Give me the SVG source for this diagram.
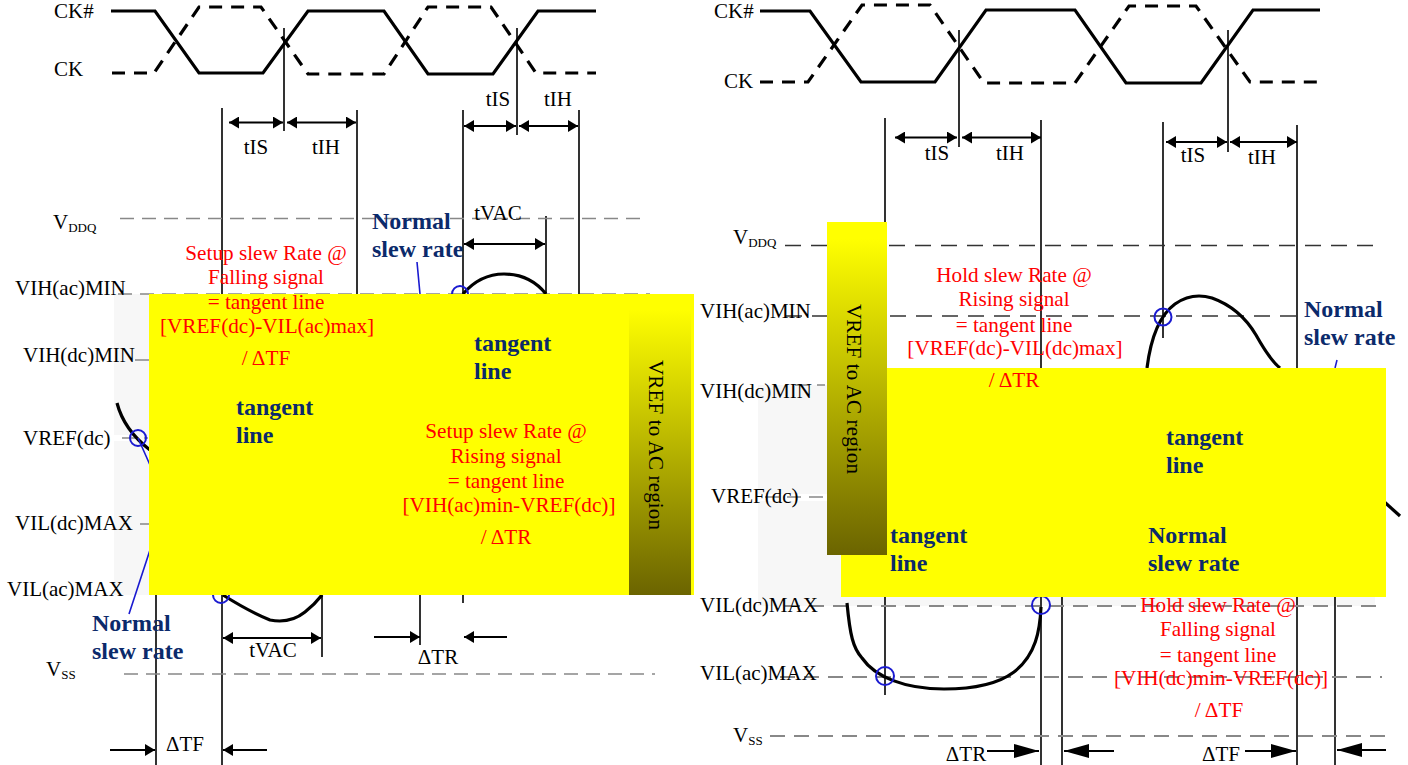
<svg xmlns="http://www.w3.org/2000/svg" width="1408" height="765" viewBox="0 0 1408 765">
<style>
text{font-family:"Liberation Serif","Times New Roman",serif;font-size:21px;fill:#000}
.c{text-anchor:middle}
.r{fill:#f00;font-size:21.200px}
.b{fill:#0b2a6b;font-weight:bold;font-size:24px}
.sub{font-size:13px}
.s{fill:none;stroke:#000;stroke-width:3.2}
.d{fill:none;stroke:#000;stroke-width:3.2;stroke-dasharray:13 9}
.v{stroke:#000;stroke-width:1.6;fill:none}
.g1{stroke:#888;stroke-width:1.6;stroke-dasharray:14 8;fill:none}
.g2{stroke:#333;stroke-width:1.3;stroke-dasharray:16 10;fill:none}
.g3{stroke:#888;stroke-width:2;stroke-dasharray:15 9;fill:none}
.cv{fill:none;stroke:#000;stroke-width:3.2}
.o{fill:none;stroke:#1a1ad0;stroke-width:2}
.bl{stroke:#1a1ad0;stroke-width:1.6;fill:none}
.a{stroke:#000;stroke-width:1.8;fill:none;marker-start:url(#ms);marker-end:url(#me)}
.a1{stroke:#000;stroke-width:1.8;fill:none;marker-end:url(#me)}
.a2{stroke:#000;stroke-width:1.8;fill:none;marker-end:url(#mb)}
.y{fill:#ff0}
.gr{fill:url(#fade)}
</style>
<defs>
<linearGradient id="fade" x1="0" y1="0" x2="0" y2="1"><stop offset="0.05" stop-color="#ff0"/><stop offset="1" stop-color="#6b6400"/></linearGradient>
<marker id="me" markerUnits="userSpaceOnUse" markerWidth="11" markerHeight="12" refX="10" refY="6" orient="auto"><path d="M0 0L10 6L0 12Z" fill="#000"/></marker>
<marker id="ms" markerUnits="userSpaceOnUse" markerWidth="11" markerHeight="12" refX="0" refY="6" orient="auto"><path d="M10 0L0 6L10 12Z" fill="#000"/></marker>
<marker id="mb" markerUnits="userSpaceOnUse" markerWidth="26" markerHeight="14" refX="25" refY="7" orient="auto"><path d="M0 0L25 7L0 14Z" fill="#000"/></marker>
</defs>

<g id="background">
<rect x="114" y="294" width="36" height="301" fill="#f7f7f7"/>
<rect x="114" y="435" width="16" height="6" fill="#fff"/>
<rect x="758" y="385" width="617" height="221" fill="#f7f7f7"/>
<rect x="758" y="494" width="69" height="7" fill="#fff"/>
</g>

<g id="connectors">
<path class="s" d="M111 11H155L199 73H263L308 11H384L428 74H493L538 11H596"/>
<path class="d" d="M112 73H154L199 7H261L308 74H384L428 7H491L536 73H596"/>
<path class="v" d="M284 28V131M517 28V135M222 108V765M357 110V294M463 110V294M579 110V294M546 216V294M156 595V765M322 595V657M420 595V645M463 595V603"/>
<path class="g1" d="M120 218.500H648M118 294H650M135 360H149M122 438H148M140 524H149M124 674H655"/>
<path class="a" d="M229 122.500H283"/>
<path class="a" d="M287 122.500H356"/>
<path class="a" d="M464 126H516"/>
<path class="a" d="M519 126H578"/>
<path class="a" d="M464 244H545"/>
<path class="a" d="M223 638H321"/>
<path class="a1" d="M374 637H420"/>
<path class="a1" d="M507 637H464"/>
<path class="a1" d="M110 750H155"/>
<path class="a1" d="M267 750H223"/>
<path class="cv" d="M463 294Q480 274 504 274Q530 274 546 294"/>
<path class="cv" d="M117 403Q124 430 150 450"/>
<path class="cv" d="M223 595Q250 612 270 620Q290 624 305 612Q315 604 322 595"/>
<circle class="o" cx="460" cy="294" r="8"/>
<circle class="o" cx="138" cy="438" r="8"/>
<circle class="o" cx="221" cy="595" r="8"/>
<path class="bl" d="M417 262L420 294M138 438L150 465M150 550L129 614"/>

<path class="s" d="M760 11H810L861 82H935L986 10H1075L1126 83H1201L1253 10H1320"/>
<path class="d" d="M760 82H808L862 5H930L984 83H1075L1129 6H1196L1250 82H1318"/>
<path class="v" d="M959 30V147M1228 30V152M885 118V222M885 597V695M1041 120V368M1041 597V765M1163 122V338M1297 125V368M1297 597V765M1062 597V765M1335 597V765"/>
<path class="g2" d="M785 245.500H1382M786 316H1300"/>
<path class="g1" d="M795 385H825M765 497H827"/>
<path class="g3" d="M785 606H1382M780 677H1382M770 736H1386"/>
<path class="a" d="M895 137.500H957"/>
<path class="a" d="M962 137.500H1041"/>
<path class="a" d="M1166 142H1227"/>
<path class="a" d="M1230 142H1297"/>
<path class="a2" d="M987 751H1039"/>
<path class="a2" d="M1114 751H1064"/>
<path class="a2" d="M1245 751H1296"/>
<path class="a2" d="M1386 750H1337"/>
<path class="cv" d="M1147 368Q1153 320 1175 304Q1192 292 1212 298Q1240 308 1256 335Q1270 360 1280 368"/>
<path class="cv" d="M847 603C850 635 853 648 862 658C875 677 905 689 944 689C975 689 998 684 1014 672C1036 655 1040 630 1041 607"/>
<path class="cv" d="M1380 498L1400 516"/>
<circle class="o" cx="1163" cy="317" r="8.500"/>
<circle class="o" cx="885" cy="676" r="9"/>
<circle class="o" cx="1041" cy="605" r="9"/>
<path class="bl" d="M1337 360L1335 368"/>
</g>

<g id="left-panel">
<rect class="y" x="149" y="294" width="545" height="301"/>
<rect class="gr" x="629" y="294" width="62" height="301"/>
<text x="54" y="18">CK#</text>
<text x="54" y="76">CK</text>
<text x="53" y="229">V<tspan class="sub" dy="3">DDQ</tspan></text>
<text x="15" y="295">VIH(ac)MIN</text>
<text x="23" y="362">VIH(dc)MIN</text>
<text x="23" y="445">VREF(dc)</text>
<text x="15" y="530">VIL(dc)MAX</text>
<text x="7" y="596">VIL(ac)MAX</text>
<text x="46" y="676">V<tspan class="sub" dy="3">SS</tspan></text>
<text class="c" x="256" y="154">tIS</text>
<text class="c" x="326" y="154">tIH</text>
<text class="c" x="498" y="106">tIS</text>
<text class="c" x="558" y="106">tIH</text>
<text class="c" x="498" y="220">tVAC</text>
<text class="c" x="273" y="657">tVAC</text>
<text class="c" x="438" y="664">ΔTR</text>
<text class="c" x="185" y="751">ΔTF</text>
<text class="b" x="372" y="229">Normal</text>
<text class="b" x="372" y="257">slew rate</text>
<text class="b" x="92" y="631">Normal</text>
<text class="b" x="92" y="659">slew rate</text>
<text class="b" x="474" y="351">tangent</text>
<text class="b" x="474" y="379">line</text>
<text class="b" x="236" y="415">tangent</text>
<text class="b" x="236" y="443">line</text>
<text class="c r" x="266" y="260">Setup slew Rate @</text>
<text class="c r" x="266" y="284">Falling signal</text>
<text class="c r" x="266" y="309">= tangent line</text>
<text class="c r" x="267" y="333">[VREF(dc)-VIL(ac)max]</text>
<text class="c r" x="266" y="365">/ ΔTF</text>
<text class="c r" x="506" y="438">Setup slew Rate @</text>
<text class="c r" x="506" y="463">Rising signal</text>
<text class="c r" x="506" y="488">= tangent line</text>
<text class="c r" x="509" y="512">[VIH(ac)min-VREF(dc)]</text>
<text class="c r" x="506" y="544">/ ΔTR</text>
<text class="c" transform="translate(649 445) rotate(90)" textLength="170">VREF to AC region</text>
</g>

<g id="right-panel">
<rect class="y" x="841" y="368" width="545" height="229"/>
<rect class="gr" x="827" y="222" width="60" height="333"/>
<text x="714" y="18">CK#</text>
<text x="724" y="88">CK</text>
<text x="733" y="244">V<tspan class="sub" dy="3">DDQ</tspan></text>
<text x="700" y="318">VIH(ac)MIN</text>
<text x="700" y="398">VIH(dc)MIN</text>
<text x="711" y="503">VREF(dc)</text>
<text x="700" y="612">VIL(dc)MAX</text>
<text x="700" y="680">VIL(ac)MAX</text>
<text x="733" y="742">V<tspan class="sub" dy="3">SS</tspan></text>
<text class="c" x="937" y="160">tIS</text>
<text class="c" x="1010" y="160">tIH</text>
<text class="c" x="1193" y="162">tIS</text>
<text class="c" x="1262" y="164">tIH</text>
<text class="c" x="966" y="761">ΔTR</text>
<text class="c" x="1221" y="761">ΔTF</text>
<text class="b" x="1304" y="317">Normal</text>
<text class="b" x="1304" y="345">slew rate</text>
<text class="b" x="1166" y="445">tangent</text>
<text class="b" x="1166" y="473">line</text>
<text class="b" x="890" y="543">tangent</text>
<text class="b" x="890" y="571">line</text>
<text class="b" x="1148" y="543">Normal</text>
<text class="b" x="1148" y="571">slew rate</text>
<text class="c r" x="1014" y="282">Hold slew Rate @</text>
<text class="c r" x="1014" y="306">Rising signal</text>
<text class="c r" x="1014" y="332">= tangent line</text>
<text class="c r" x="1015" y="355">[VREF(dc)-VIL(dc)max]</text>
<text class="c r" x="1014" y="387">/ ΔTR</text>
<text class="c r" x="1218" y="612">Hold slew Rate @</text>
<text class="c r" x="1218" y="636">Falling signal</text>
<text class="c r" x="1218" y="662">= tangent line</text>
<text class="c r" x="1221" y="685">[VIH(dc)min-VREF(dc)]</text>
<text class="c r" x="1219" y="717">/ ΔTF</text>
<text class="c" transform="translate(847 389) rotate(90)" textLength="170">VREF to AC region</text>
</g>
</svg>
